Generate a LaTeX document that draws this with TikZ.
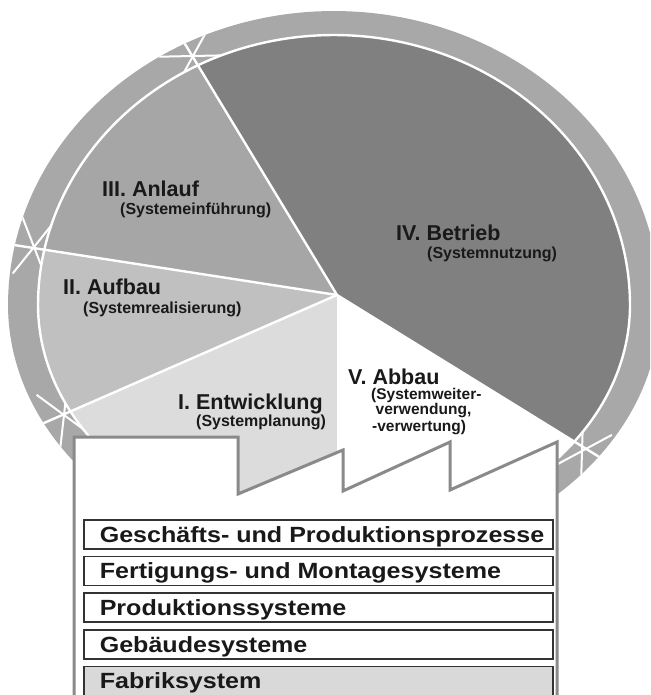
\documentclass[tikz,border=0pt]{standalone}
\usepackage{fontspec}
\setmainfont{Liberation Sans}
\newfontfamily\boxfont{Liberation Sans}[FakeStretch=1.14]
\definecolor{ringgray}{HTML}{A8A8A8}
\definecolor{segIV}{HTML}{808080}
\definecolor{segIII}{HTML}{A6A6A6}
\definecolor{segII}{HTML}{C0C0C0}
\definecolor{segI}{HTML}{DCDCDC}
\definecolor{factline}{HTML}{8A8A8A}
\definecolor{boxline}{HTML}{333333}
\definecolor{boxfill}{HTML}{D9D9D9}
% egg-shaped ellipse: centre x, half width, centre y, upper half height, lower half height
\newcommand{\eggpath}[5]{plot[domain=0:359,samples=240,variable=\t] ({#1+#2*cos(\t)},{#3-((sin(\t)>0)?#4:#5)*sin(\t)}) -- cycle}
\begin{document}
\begin{tikzpicture}[x=1pt,y=-1pt,
  whiteline/.style={white,line width=2.4pt},
  starline/.style={white,line width=2pt},
  phase/.style={font=\fontsize{21.5}{24}\selectfont\bfseries,anchor=base west,inner sep=0pt,text=black!90},
  sub/.style={font=\fontsize{16}{16}\selectfont\bfseries,anchor=base west,inner sep=0pt,text=black!90},
  subv/.style={font=\fontsize{15.5}{16}\selectfont\bfseries,anchor=base west,inner sep=0pt,text=black!90},
  factory/.style={draw=factline,line width=3pt,fill=white,line join=miter},
  rowbox/.style={draw=boxline,line width=1.5pt,fill=white,minimum height=29pt,minimum width=469pt,inner xsep=16pt,inner ysep=0pt,anchor=north west,font={\boxfont\fontsize{22}{22}\selectfont\bfseries},text height=15.8pt,text depth=0pt,text=black!90}]
\useasboundingbox (0,0) rectangle (650,695);
\clip (0,0) rectangle (650,695);
% centre and directions
\coordinate (C) at (337,295);
\path (C) ++(-121.2:700) coordinate (fTop);
\path (C) ++(-171.2:700) coordinate (fLeft);
\path (C) ++(156.4:700) coordinate (fBL);
\path (C) ++(90:700) coordinate (fDown);
\path (C) ++(31.7:700) coordinate (fRight);
\coordinate (fCorner) at (1000,-400);
\coordinate (sTop) at (193,56);
\coordinate (sLeft) at (34,247);
\coordinate (sBL) at (64,415);
\coordinate (sBR) at (582,451);
% outer ring
\fill[ringgray] \eggpath{334}{326}{305}{294}{260};
\begin{scope}
\clip \eggpath{334}{326}{305}{294}{260};
\draw[starline] (sTop) ++(-61.2:34) -- ++(118.8:68);
\draw[starline] (sTop) ++(-181.2:34) -- ++(-1.2:68);
\draw[starline] (sLeft) ++(-111.2:34) -- ++(68.8:68);
\draw[starline] (sLeft) ++(128.8:34) -- ++(-51.2:68);
\draw[starline] (sBL) ++(216.4:34) -- ++(36.4:68);
\draw[starline] (sBL) ++(96.4:34) -- ++(-83.6:68);
\draw[starline] (sBR) ++(91.7:34) -- ++(-88.3:68);
\draw[starline] (sBR) ++(-28.3:34) -- ++(151.7:68);
\end{scope}
% pie segments
\begin{scope}
\clip \eggpath{334}{296}{305}{270}{234};
\fill[segIV] (C) -- (fRight) -- (fCorner) -- (fTop) -- cycle;
\fill[segIII] (C) -- (fTop) -- (fLeft) -- cycle;
\fill[segII] (C) -- (fLeft) -- (fBL) -- cycle;
\fill[segI] (C) -- (fBL) -- (fDown) -- cycle;
\fill[white] (C) -- (fDown) -- (fRight) -- cycle;
\end{scope}
\draw[whiteline] \eggpath{334}{296}{305}{270}{234};
\begin{scope}
\clip \eggpath{334}{326}{305}{294}{260};
\draw[whiteline] (C) -- (fTop);
\draw[whiteline] (C) -- (fLeft);
\draw[whiteline] (C) -- (fBL);
\draw[whiteline] (C) -- (fRight);
\end{scope}
% labels
\node[phase] (l3) at (102,196) {III. Anlauf};
\node[sub] (s3) at (120,214.6) {(Systemeinführung)};
\node[phase] (l4) at (396,240) {IV. Betrieb};
\node[sub] (s4) at (427,258.6) {(Systemnutzung)};
\node[phase] (l2) at (63,294) {II. Aufbau};
\node[sub] (s2) at (83,313.6) {(Systemrealisierung)};
\node[phase] (l1) at (178,409) {I. Entwicklung};
\node[sub] (s1) at (196,426.6) {(Systemplanung)};
\node[phase] (l5) at (348,384) {V. Abbau};
\node[subv] (s5a) at (371,399) {(Systemweiter-};
\node[subv] (s5b) at (375.5,414.5) {verwendung,};
\node[subv] (s5c) at (372,431) {-verwertung)};
% factory
\draw[factory] (74,710) -- (74,437) -- (238,437) -- (238,494) -- (343,450) -- (343,491) -- (450,442) -- (450,490) -- (557,442) -- (557,710) -- cycle;
% layer boxes
\node[rowbox] (b1) at (83,519) {\makebox[437pt][l]{Geschäfts- und Produktionsprozesse}};
\node[rowbox] (b2) at (83,555.7) {\makebox[437pt][l]{Fertigungs- und Montagesysteme}};
\node[rowbox] (b3) at (83,592.3) {\makebox[437pt][l]{Produktionssysteme}};
\node[rowbox] (b4) at (83,629) {\makebox[437pt][l]{Gebäudesysteme}};
\node[rowbox,fill=boxfill] (b5) at (83,665.5) {\makebox[437pt][l]{Fabriksystem}};
\end{tikzpicture}
\end{document}
